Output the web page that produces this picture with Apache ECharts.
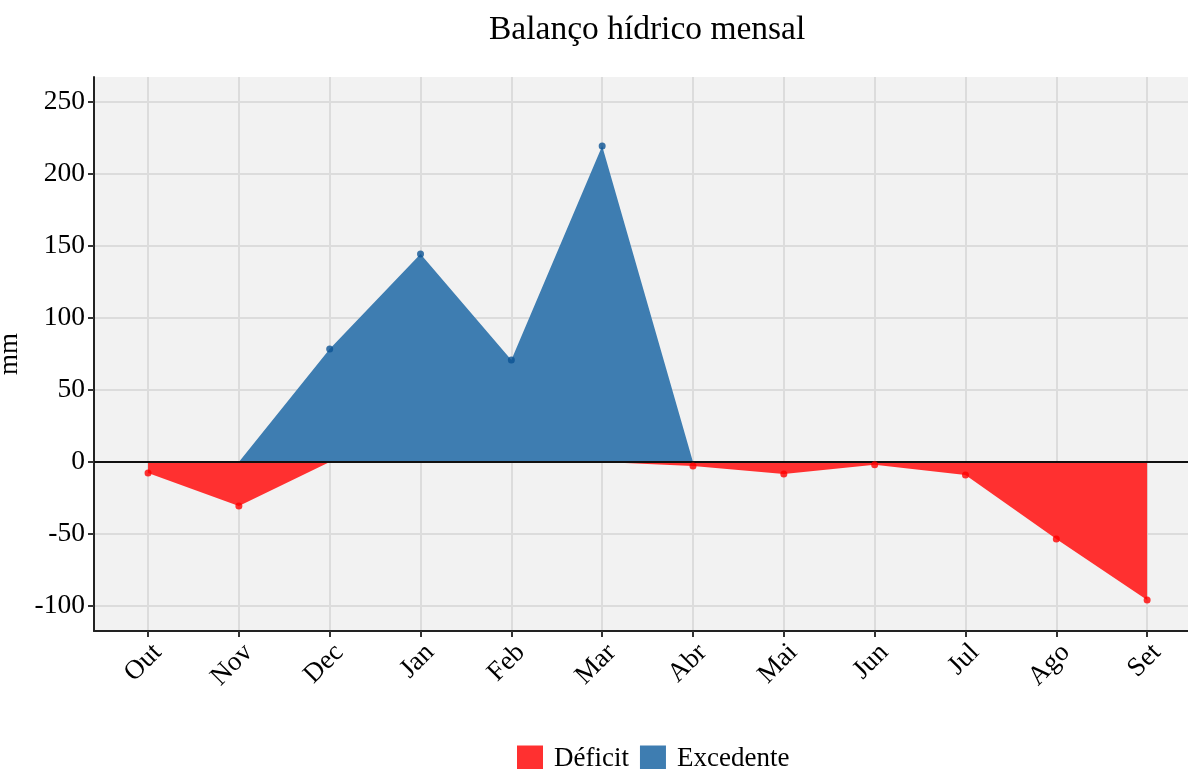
<!DOCTYPE html>
<html><head><meta charset="utf-8">
<script src="https://cdn.jsdelivr.net/npm/echarts@6/dist/echarts.min.js"></script>
<style>html,body{margin:0;padding:0;background:#fff}#c{width:1188px;height:769px}</style>
</head><body><div id="c"></div>
<script>
const months = ['Out','Nov','Dec','Jan','Feb','Mar','Abr','Mai','Jun','Jul','Ago','Set'];
const balance = [-7.6, -30.5, 78.5, 144.4, 70.8, 219.4, -2.8, -8.3, -2.0, -9.0, -53.5, -95.8];
const yTicks = [-100, -50, 0, 50, 100, 150, 200, 250];

const idx = months.map((m, i) => i);
const deficit = balance.map((v, i) => [i, Math.min(v, 0)]);
const excess = balance.map((v, i) => [i, Math.max(v, 0)]);
const ptsNeg = balance.map((v, i) => [i, v]).filter(p => p[1] < 0);
const ptsPos = balance.map((v, i) => [i, v]).filter(p => p[1] >= 0);

const F = 'Liberation Serif';
const chart = echarts.init(document.getElementById('c'));
chart.setOption({
  animation: false,
  backgroundColor: '#fff',
  title: { text: 'Balanço hídrico mensal', left: 484, top: 8,
    textStyle: { fontFamily: F, fontSize: 33.5, fontWeight: 'normal', color: '#000' } },
  legend: { bottom: -8, left: 512, itemWidth: 26, itemHeight: 26, itemGap: 11,
    textStyle: { fontFamily: F, fontSize: 27, color: '#000', padding: [0, 0, 0, 6] },
    data: [{ name: 'Déficit', icon: 'rect' }, { name: 'Excedente', icon: 'rect' }] },
  grid: { left: 94, right: 0, top: 77, bottom: 138, outerBoundsMode: 'none', containLabel: false,
    show: true, backgroundColor: '#F2F2F2', borderWidth: 0 },
  xAxis: { type: 'value', min: -0.595, max: 11.45,
    axisLine: { show: true, onZero: false, lineStyle: { color: '#222', width: 2 } },
    axisTick: { show: true, customValues: idx, length: 6, lineStyle: { color: '#333', width: 2 } },
    axisLabel: { customValues: idx, rotate: 45, fontFamily: F, fontSize: 27, color: '#000', margin: 8,
      verticalAlign: 'top', formatter: v => months[Math.round(v)] },
    splitLine: { show: true, lineStyle: { color: '#DCDCDC', width: 2 } } },
  yAxis: { type: 'value', min: -117.4, max: 267.4, name: 'mm', nameLocation: 'middle', nameGap: 61,
    nameTextStyle: { fontFamily: F, fontSize: 27, color: '#000' },
    axisLine: { show: true, onZero: false, lineStyle: { color: '#222', width: 2 } },
    axisTick: { show: true, customValues: yTicks, length: 6, lineStyle: { color: '#333', width: 2 } },
    axisLabel: { customValues: yTicks, fontFamily: F, fontSize: 27.5, color: '#000', margin: 9 },
    splitLine: { show: true, lineStyle: { color: '#DCDCDC', width: 2 } } },
  series: [
    { name: 'Déficit', type: 'line', data: deficit, symbol: 'none', lineStyle: { width: 0 },
      itemStyle: { color: '#FF3030' }, areaStyle: { color: '#FF3030', opacity: 1, origin: 0 } },
    { name: 'Excedente', type: 'line', data: excess, symbol: 'none', lineStyle: { width: 0 },
      itemStyle: { color: '#3E7DB1' }, areaStyle: { color: '#3E7DB1', opacity: 1, origin: 0 },
      markLine: { silent: true, symbol: 'none', label: { show: false },
        lineStyle: { color: '#111', width: 2, type: 'solid' }, data: [{ yAxis: 0 }] } },
    { type: 'scatter', data: ptsNeg, symbolSize: 7, itemStyle: { color: '#FF0000' }, z: 5 },
    { type: 'scatter', data: ptsPos, symbolSize: 7, itemStyle: { color: '#0B5394' }, z: 5 }
  ]
});
</script></body></html>
